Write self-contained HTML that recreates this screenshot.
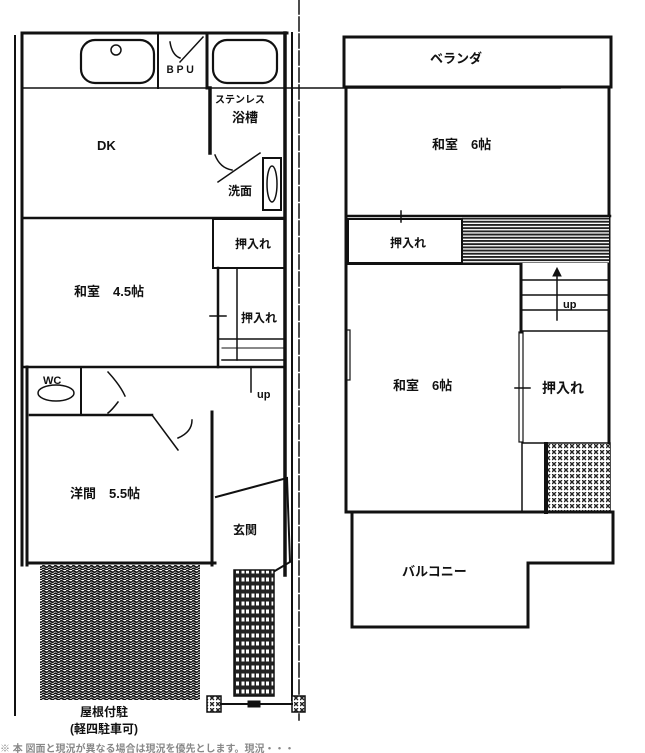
<!DOCTYPE html>
<html><head><meta charset="utf-8"><style>
html,body{margin:0;padding:0;background:#fff}
svg{display:block}
text{font-family:"Liberation Sans","Noto Sans CJK JP",sans-serif;fill:#111;font-weight:bold}
</style></head><body>
<svg width="645" height="753" viewBox="0 0 645 753" xmlns="http://www.w3.org/2000/svg">
<defs>
<pattern id="wave" width="6" height="5" patternUnits="userSpaceOnUse">
<rect width="6" height="5" fill="#fff"/>
<path d="M0 1.5 Q1.5 0 3 1.5 T6 1.5 M0 4 Q1.5 2.5 3 4 T6 4" stroke="#111" stroke-width="1.6" fill="none"/>
</pattern>
<pattern id="hl" width="4" height="3.2" patternUnits="userSpaceOnUse">
<rect width="4" height="3.2" fill="#fff"/><rect y="0" width="4" height="1.9" fill="#222"/>
</pattern>
<pattern id="xh" width="6" height="6" patternUnits="userSpaceOnUse">
<rect width="6" height="6" fill="#fff"/><path d="M0 0L4 4M4 0L0 4" stroke="#222" stroke-width="1.4"/>
</pattern>
<pattern id="tile" width="10" height="8" patternUnits="userSpaceOnUse">
<rect width="10" height="8" fill="#222"/><rect x="1.5" y="1.5" width="3" height="4" fill="#fff"/><rect x="6" y="1.5" width="3" height="4" fill="#fff"/>
</pattern>
</defs>
<g stroke="#111" fill="none" stroke-linecap="square">
<line x1="15" y1="36" x2="15" y2="715" stroke-width="2"/>
<line x1="22" y1="33" x2="22" y2="565" stroke-width="3"/>
<line x1="22" y1="33" x2="287" y2="33" stroke-width="3"/>
<line x1="285" y1="33" x2="285" y2="575" stroke-width="3.5"/>
<line x1="292" y1="33" x2="292" y2="700" stroke-width="2"/>
<line x1="299" y1="0" x2="299" y2="720" stroke-width="1.5" stroke-dasharray="14 3"/>
<line x1="22" y1="88" x2="560" y2="88" stroke-width="1.5"/>
<line x1="158" y1="33" x2="158" y2="88" stroke-width="2"/>
<line x1="207" y1="33" x2="207" y2="88" stroke-width="3"/>
<rect x="81" y="40" width="73" height="43" rx="14" stroke-width="2.2"/>
<circle cx="116" cy="50" r="5" stroke-width="1.5"/>
<rect x="213" y="40" width="64" height="43" rx="14" stroke-width="2.2"/>
<path d="M170 42 Q172 55 180 58 M180 62 L203 37" stroke-width="1.5"/>
<line x1="210" y1="88" x2="210" y2="153" stroke-width="3.5"/>
<path d="M215 155 Q220 168 232 170 M218 182 L260 153" stroke-width="1.5"/>
<rect x="263" y="158" width="18" height="52" stroke-width="2"/>
<ellipse cx="272" cy="184" rx="5" ry="18" stroke-width="1.5"/>
<line x1="22" y1="218" x2="285" y2="218" stroke-width="2.5"/>
<rect x="213" y="219" width="72" height="49" stroke-width="2"/>
<line x1="218" y1="268" x2="218" y2="367" stroke-width="2.5"/>
<line x1="237" y1="268" x2="237" y2="360" stroke-width="1.5"/>
<line x1="218" y1="339" x2="285" y2="339" stroke-width="1.5"/>
<line x1="222" y1="348" x2="285" y2="348" stroke-width="1" stroke-dasharray="3 1"/>
<line x1="222" y1="360" x2="285" y2="360" stroke-width="1.5"/>
<line x1="210" y1="316" x2="226" y2="316" stroke-width="1.5"/>
<line x1="22" y1="367" x2="285" y2="367" stroke-width="2.5"/>
<line x1="251" y1="367" x2="251" y2="392" stroke-width="1.5"/>
<line x1="27" y1="367" x2="27" y2="565" stroke-width="3"/>
<line x1="81" y1="367" x2="81" y2="415" stroke-width="2"/>
<line x1="30" y1="415" x2="152" y2="415" stroke-width="2.5"/>
<ellipse cx="56" cy="393" rx="18" ry="8" stroke-width="1.5"/>
<path d="M108 372 Q120 385 125 396 M118 402 Q112 410 108 413" stroke-width="1.5"/>
<path d="M152 415 L178 450 M192 420 Q192 432 178 438" stroke-width="1.5"/>
<line x1="212" y1="412" x2="212" y2="565" stroke-width="3"/>
<line x1="30" y1="563" x2="215" y2="563" stroke-width="3"/>
<path d="M216 497 L287 478 L290 562 L268 575" stroke-width="2"/>
<rect x="40" y="565" width="160" height="135" fill="url(#wave)" stroke="none"/>
<rect x="234" y="570" width="40" height="126" fill="url(#tile)" stroke="#111" stroke-width="1.5"/>
<rect x="207" y="696" width="14" height="16" fill="url(#xh)" stroke-width="1.5"/>
<rect x="292" y="696" width="13" height="16" fill="url(#xh)" stroke-width="1.5"/>
<line x1="221" y1="704" x2="292" y2="704" stroke-width="2"/>
<rect x="248" y="701" width="12" height="6" fill="#111"/>

<rect x="344" y="37" width="267" height="50" stroke-width="3"/>
<line x1="346" y1="88" x2="346" y2="512" stroke-width="3"/>
<line x1="609" y1="88" x2="609" y2="512" stroke-width="3"/>
<line x1="346" y1="216" x2="610" y2="216" stroke-width="2.5"/>
<rect x="462" y="217" width="147" height="46" fill="url(#hl)" stroke="none"/>
<rect x="348" y="219" width="114" height="44" stroke-width="2"/>
<line x1="401" y1="211" x2="401" y2="222" stroke-width="1.5"/>
<line x1="346" y1="264" x2="520" y2="264" stroke-width="2"/>
<line x1="521" y1="264" x2="521" y2="332" stroke-width="3"/>
<line x1="521" y1="280" x2="608" y2="280" stroke-width="1.5"/>
<line x1="521" y1="295" x2="608" y2="295" stroke-width="1.5"/>
<line x1="521" y1="310" x2="608" y2="310" stroke-width="1.5"/>
<line x1="521" y1="331" x2="608" y2="331" stroke-width="1.5"/>
<line x1="557" y1="320" x2="557" y2="272" stroke-width="1.5"/>
<path d="M553 276 L557 268 L561 276Z" fill="#111"/>
<rect x="519" y="332" width="4" height="110" stroke-width="1.2"/>
<line x1="515" y1="388" x2="530" y2="388" stroke-width="1.5"/>
<rect x="346" y="330" width="4" height="50" stroke-width="1.2"/>
<rect x="522" y="443" width="88" height="69" stroke-width="1.5"/>
<rect x="545" y="444" width="65" height="67" fill="url(#xh)" stroke="none"/>
<line x1="546" y1="444" x2="546" y2="512" stroke-width="4"/>
<line x1="346" y1="512" x2="613" y2="512" stroke-width="3"/>
<path d="M352 512 L352 627 L528 627 L528 563 L613 563 L613 512" stroke-width="3" stroke-dasharray="4 1"/>
</g>
<g font-size="12">
<text x="165" y="73" font-size="10">ＢＰＵ</text>
<text x="215" y="103" font-size="10">ステンレス</text>
<text x="232" y="122" font-size="13">浴槽</text>
<text x="97" y="150" font-size="13">DK</text>
<text x="228" y="195" font-size="12">洗面</text>
<text x="235" y="248" font-size="12">押入れ</text>
<text x="241" y="322" font-size="12">押入れ</text>
<text x="74" y="296" font-size="13">和室　4.5帖</text>
<text x="43" y="384" font-size="11" font-weight="normal">WC</text>
<text x="257" y="398" font-size="11" font-weight="normal">up</text>
<text x="70" y="498" font-size="13">洋間　5.5帖</text>
<text x="233" y="534" font-size="12">玄関</text>
<text x="80" y="716" font-size="12">屋根付駐</text>
<text x="70" y="733" font-size="12">(軽四駐車可)</text>
<text x="430" y="63" font-size="13" font-weight="normal">ベランダ</text>
<text x="432" y="149" font-size="13">和室　6帖</text>
<text x="390" y="247" font-size="12">押入れ</text>
<text x="563" y="308" font-size="11" font-weight="normal">up</text>
<text x="393" y="390" font-size="13">和室　6帖</text>
<text x="542" y="393" font-size="14">押入れ</text>
<text x="402" y="576" font-size="13" font-weight="normal">バルコニー</text>
</g>
<text x="0" y="752" font-size="10" font-weight="normal" style="fill:#888">※ 本 図面と現況が異なる場合は現況を優先とします。現況・・・</text>
</svg>
</body></html>
